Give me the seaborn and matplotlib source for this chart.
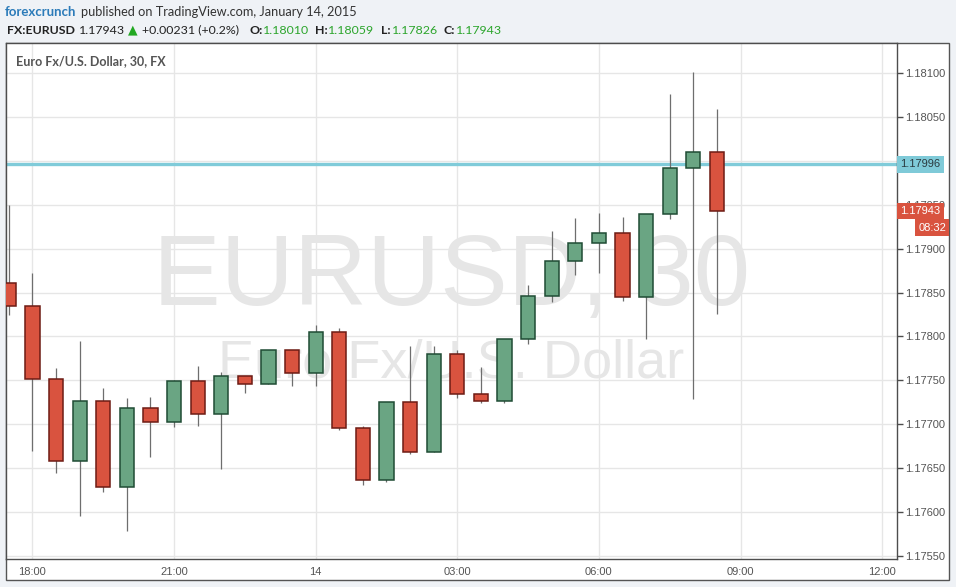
import numpy as np
import pandas as pd
import seaborn as sns
import matplotlib
matplotlib.use('Agg')
import matplotlib.pyplot as plt
from matplotlib.patches import Rectangle

# 30 minute EUR/USD candles, 13-14 Jan 2015
times = ['17:30', '18:00', '18:30', '19:00', '19:30', '20:00', '20:30', '21:00',
         '21:30', '22:00', '22:30', '23:00', '23:30', '00:00', '00:30', '01:00',
         '01:30', '02:00', '02:30', '03:00', '03:30', '04:00', '04:30', '05:00',
         '05:30', '06:00', '06:30', '07:00', '07:30', '08:00', '08:30']
opens = [1.17861, 1.17835, 1.17751, 1.17658, 1.17726, 1.17629, 1.17719, 1.17703,
         1.17749, 1.17712, 1.17755, 1.17746, 1.17785, 1.17758, 1.17805, 1.17696,
         1.17637, 1.17725, 1.17668, 1.17780, 1.17735, 1.17727, 1.17797, 1.17846,
         1.17886, 1.17906, 1.17918, 1.17845, 1.17939, 1.17992, 1.18010]
highs = [1.17950, 1.17872, 1.17764, 1.17795, 1.17741, 1.17730, 1.17731, 1.17750,
         1.17766, 1.17760, 1.17755, 1.17785, 1.17785, 1.17813, 1.17810, 1.17698,
         1.17725, 1.17789, 1.17789, 1.17785, 1.17765, 1.17797, 1.17858, 1.17920,
         1.17935, 1.17941, 1.17936, 1.17939, 1.18076, 1.18101, 1.18059]
lows = [1.17824, 1.17670, 1.17645, 1.17595, 1.17623, 1.17578, 1.17663, 1.17697,
        1.17698, 1.17649, 1.17736, 1.17746, 1.17744, 1.17744, 1.17694, 1.17631,
        1.17634, 1.17666, 1.17668, 1.17730, 1.17724, 1.17724, 1.17791, 1.17839,
        1.17870, 1.17872, 1.17840, 1.17797, 1.17934, 1.17729, 1.17826]
closes = [1.17835, 1.17751, 1.17658, 1.17726, 1.17629, 1.17719, 1.17703, 1.17749,
          1.17712, 1.17755, 1.17746, 1.17785, 1.17758, 1.17805, 1.17696, 1.17637,
          1.17725, 1.17668, 1.17780, 1.17735, 1.17727, 1.17797, 1.17846, 1.17886,
          1.17906, 1.17918, 1.17845, 1.17939, 1.17992, 1.18010, 1.17943]

x_labels = ['18:00', '21:00', '14', '03:00', '06:00', '09:00', '12:00']
y_ticks = [1.17550, 1.17600, 1.17650, 1.17700, 1.17750, 1.17800, 1.17850,
           1.17900, 1.17950, 1.18000, 1.18050, 1.18100]
line_price = 1.17996
last_price = 1.17943
countdown = '08:32'

df = pd.DataFrame({'time': times, 'open': opens, 'high': highs,
                   'low': lows, 'close': closes})
df['slot'] = np.arange(len(df)) - times.index('18:00')
df['up'] = df['close'] >= df['open']

sns.set_style('whitegrid', {'grid.color': '#e6e6e6', 'axes.edgecolor': '#4d4d4d'})
plt.rcParams['font.family'] = ['Liberation Sans', 'DejaVu Sans']

W, H = 956, 587
fig = plt.figure(figsize=(W / 100, H / 100), dpi=100, facecolor='#eff2f6')


def fx(x):
    return x / W


def fy(y):
    return 1 - y / H


# white chart panel with border
fig.add_artist(Rectangle((fx(6), fy(580)), fx(943), (580 - 43) / H,
                         transform=fig.transFigure, fc='white', ec='#555555',
                         lw=1, zorder=-1))

ax = fig.add_axes([fx(6), fy(559), fx(891), (559 - 43) / H])
ax.set_facecolor('white')

red, red_edge = '#d9533f', '#6d1b14'
green, green_edge = '#6aa583', '#1f4c34'

ax.axhline(line_price, color='#80cbd9', lw=2.4, zorder=1.8)
ax.vlines(df['slot'], df['low'], df['high'], color='#6e6e6e', lw=0.9, zorder=2)
ax.bar(df['slot'], (df['close'] - df['open']).abs(),
       bottom=df[['open', 'close']].min(axis=1), width=0.6,
       color=np.where(df['up'], green, red),
       edgecolor=np.where(df['up'], green_edge, red_edge),
       linewidth=1.1, zorder=3)

# watermark
ax.text(0.5, 0.492, 'EURUSD, 30', transform=ax.transAxes, ha='center',
        va='baseline', fontsize=73, color='#e6e6e6', zorder=0.4)
ax.text(0.5, 0.351, 'Euro Fx/U.S. Dollar', transform=ax.transAxes, ha='center',
        va='baseline', fontsize=39, color='#e6e6e6', zorder=0.4)
ax.text(10 / 891, 1 - (61 - 43) / 516, 'Euro Fx/U.S. Dollar, 30, FX',
        transform=ax.transAxes, ha='left', va='center', fontsize=9,
        fontweight='bold', color='#555555', family=['Lato', 'DejaVu Sans'])

ax.set_xlim(-1.12, 36.63)
ax.set_ylim(1.175466, 1.181341)
ax.set_xticks(np.arange(len(x_labels)) * 6)
ax.set_xticklabels(x_labels)
ax.set_yticks(y_ticks)
# 1.18000 sits fully under the 1.17996 price box, so it shows no label
ax.set_yticklabels(['' if v == 1.18000 else f'{v:.5f}' for v in y_ticks])
ax.yaxis.tick_right()
ax.tick_params(axis='both', length=4, width=1, color='#4d4d4d',
               labelcolor='#555555', labelsize=8)
ax.tick_params(axis='x', pad=2)
ax.tick_params(axis='y', pad=2)
ax.grid(True, color='#e6e6e6', lw=1)
for s in ax.spines.values():
    s.set_color('#4d4d4d')
    s.set_linewidth(1)

# price labels on the right axis
yax = ax.get_yaxis_transform()
ax.text(1.004, line_price, f'{line_price:.5f}', transform=yax, ha='left',
        va='center', fontsize=8, color='#2b3b40', clip_on=False, zorder=6,
        bbox=dict(boxstyle='square,pad=0.3', fc='#7fcad8', ec='none'))
ax.text(1.004, last_price, f'{last_price:.5f}', transform=yax, ha='left',
        va='center', fontsize=8, color='white', clip_on=False, zorder=6,
        bbox=dict(boxstyle='square,pad=0.3', fc='#d9533f', ec='none'))
ax.annotate(countdown, xy=(1.055, last_price), xycoords=yax,
            xytext=(0, -12), textcoords='offset points', ha='right', va='center',
            fontsize=8, color='white', annotation_clip=False, zorder=6,
            bbox=dict(boxstyle='square,pad=0.28', fc='#d9533f', ec='none'))

# header
hf = ['Lato', 'DejaVu Sans']
fs = 8.9
fig.text(fx(5), fy(12), 'forexcrunch', fontsize=9.5, fontweight='bold',
         color='#2b7bb9', va='center', family=hf)
fig.text(fx(81), fy(12), 'published on TradingView.com, January 14, 2015',
         fontsize=9.2, color='#333333', va='center', family=hf)
fig.text(fx(7), fy(30), 'FX:EURUSD', fontsize=fs, fontweight='bold',
         color='#222222', va='center', family=hf)
fig.text(fx(79), fy(30), f'{last_price:.5f}', fontsize=fs, color='#222222',
         va='center', family=hf)
fig.text(fx(128), fy(30), '\u25b2', fontsize=9, color='#22a822', va='center',
         family=['DejaVu Sans'])
fig.text(fx(142), fy(30), '+0.00231 (+0.2%)', fontsize=fs, color='#222222',
         va='center', family=hf)
ohlc = [('O:', opens[-1], 249, 263), ('H:', highs[-1], 315, 328),
        ('L:', lows[-1], 381, 392), ('C:', closes[-1], 444, 456)]
for key, val, kx, vx in ohlc:
    fig.text(fx(kx), fy(30), key, fontsize=fs, fontweight='bold',
             color='#222222', va='center', family=hf)
    fig.text(fx(vx), fy(30), f'{val:.5f}', fontsize=fs, color='#2ca52c',
             va='center', family=hf)

fig.savefig('out.png', dpi=100, facecolor=fig.get_facecolor())
